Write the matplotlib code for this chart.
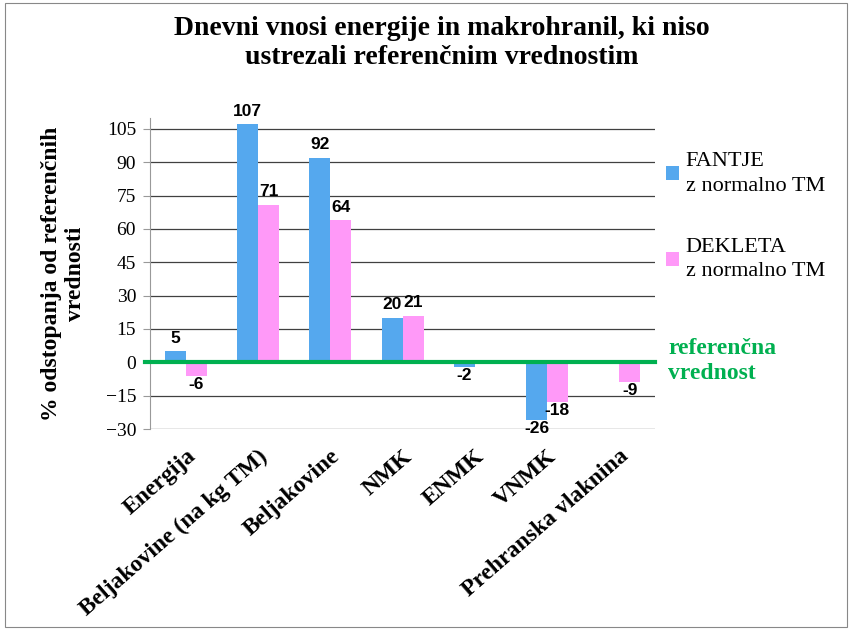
import numpy as np
import matplotlib
matplotlib.use('Agg')
import matplotlib.pyplot as plt
from matplotlib.patches import Rectangle

categories = ['Energija', 'Beljakovine (na kg TM)', 'Beljakovine', 'NMK', 'ENMK', 'VNMK', 'Prehranska vlaknina']
fantje = [5, 107, 92, 20, -2, -26, 0]
dekleta = [-6, 71, 64, 21, 0, -18, -9]
fantje_labels = ['5', '107', '92', '20', '-2', '-26', '']
dekleta_labels = ['-6', '71', '64', '21', '', '-18', '-9']

blue = '#55A8EE'
pink = '#FF99F8'
green = '#00B050'
serif = 'Liberation Serif'

fig = plt.figure(figsize=(8.52, 6.30), dpi=100)
fig.patches.append(Rectangle((0.006, 0.005), 0.988, 0.99, transform=fig.transFigure,
                             fill=False, edgecolor='#888888', linewidth=0.8))
ax = fig.add_axes([0.176, 0.319, 0.593, 0.494])

x = np.arange(len(categories))
w = 0.29
ax.bar(x - w/2, fantje, w, color=blue, label='FANTJE\nz normalno TM', zorder=3)
ax.bar(x + w/2, dekleta, w, color=pink, label='DEKLETA\nz normalno TM', zorder=3)

# data labels: above positive bars, just below the end of negative ones
for i in range(len(categories)):
    for val, lab, off in [(fantje[i], fantje_labels[i], -w/2), (dekleta[i], dekleta_labels[i], w/2)]:
        if lab == '':
            continue
        if val >= 0:
            ax.text(i + off, val + 2.5, lab, ha='center', va='bottom', fontsize=12.5,
                    fontweight='bold', family='Liberation Sans', zorder=5)
        else:
            ax.text(i + off, val - 0.5, lab, ha='center', va='top', fontsize=12.5,
                    fontweight='bold', family='Liberation Sans', zorder=5)

ax.set_xlim(-0.5, len(categories) - 0.5)
ax.set_ylim(-30, 110)
ax.set_yticks(np.arange(-30, 106, 15))
ax.yaxis.grid(True, color='#404040', linewidth=0.9, zorder=0)
ax.axhline(0, color=green, linewidth=3, zorder=4, xmin=-0.01, clip_on=False)

for s in ['top', 'right', 'bottom']:
    ax.spines[s].set_visible(False)
ax.spines['left'].set_color('#999999')
ax.tick_params(axis='y', length=5, color='#999999', labelsize=14, pad=5)
for t in ax.get_yticklabels():
    t.set_family(serif)
ax.set_xticks(x)
ax.set_xticklabels(categories, rotation=41, ha='right', rotation_mode='anchor',
                   family=serif, fontweight='bold', fontsize=17)
ax.tick_params(axis='x', length=0, pad=12)

ax.set_ylabel('% odstopanja od referenčnih\nvrednosti', family=serif, fontweight='bold',
              fontsize=17, labelpad=14, linespacing=1.2)

fig.suptitle('Dnevni vnosi energije in makrohranil, ki niso\nustrezali referenčnim vrednostim',
             family=serif, fontweight='bold', fontsize=20, y=0.975, x=0.519, linespacing=1.2)

leg = ax.legend(loc='upper left', bbox_to_anchor=(0.99, 0.94), frameon=False,
                prop={'family': serif, 'size': 16}, handlelength=0.6, handleheight=0.6,
                handletextpad=0.3, labelspacing=1.9, borderaxespad=0.3)
for t in leg.get_texts():
    t.set_linespacing(1.4)

fig.text(0.784, 0.427, 'referenčna\nvrednost', color=green, family=serif, fontweight='bold',
         fontsize=17, va='center', ha='left', linespacing=1.3)

fig.savefig('out.png', dpi=100)
